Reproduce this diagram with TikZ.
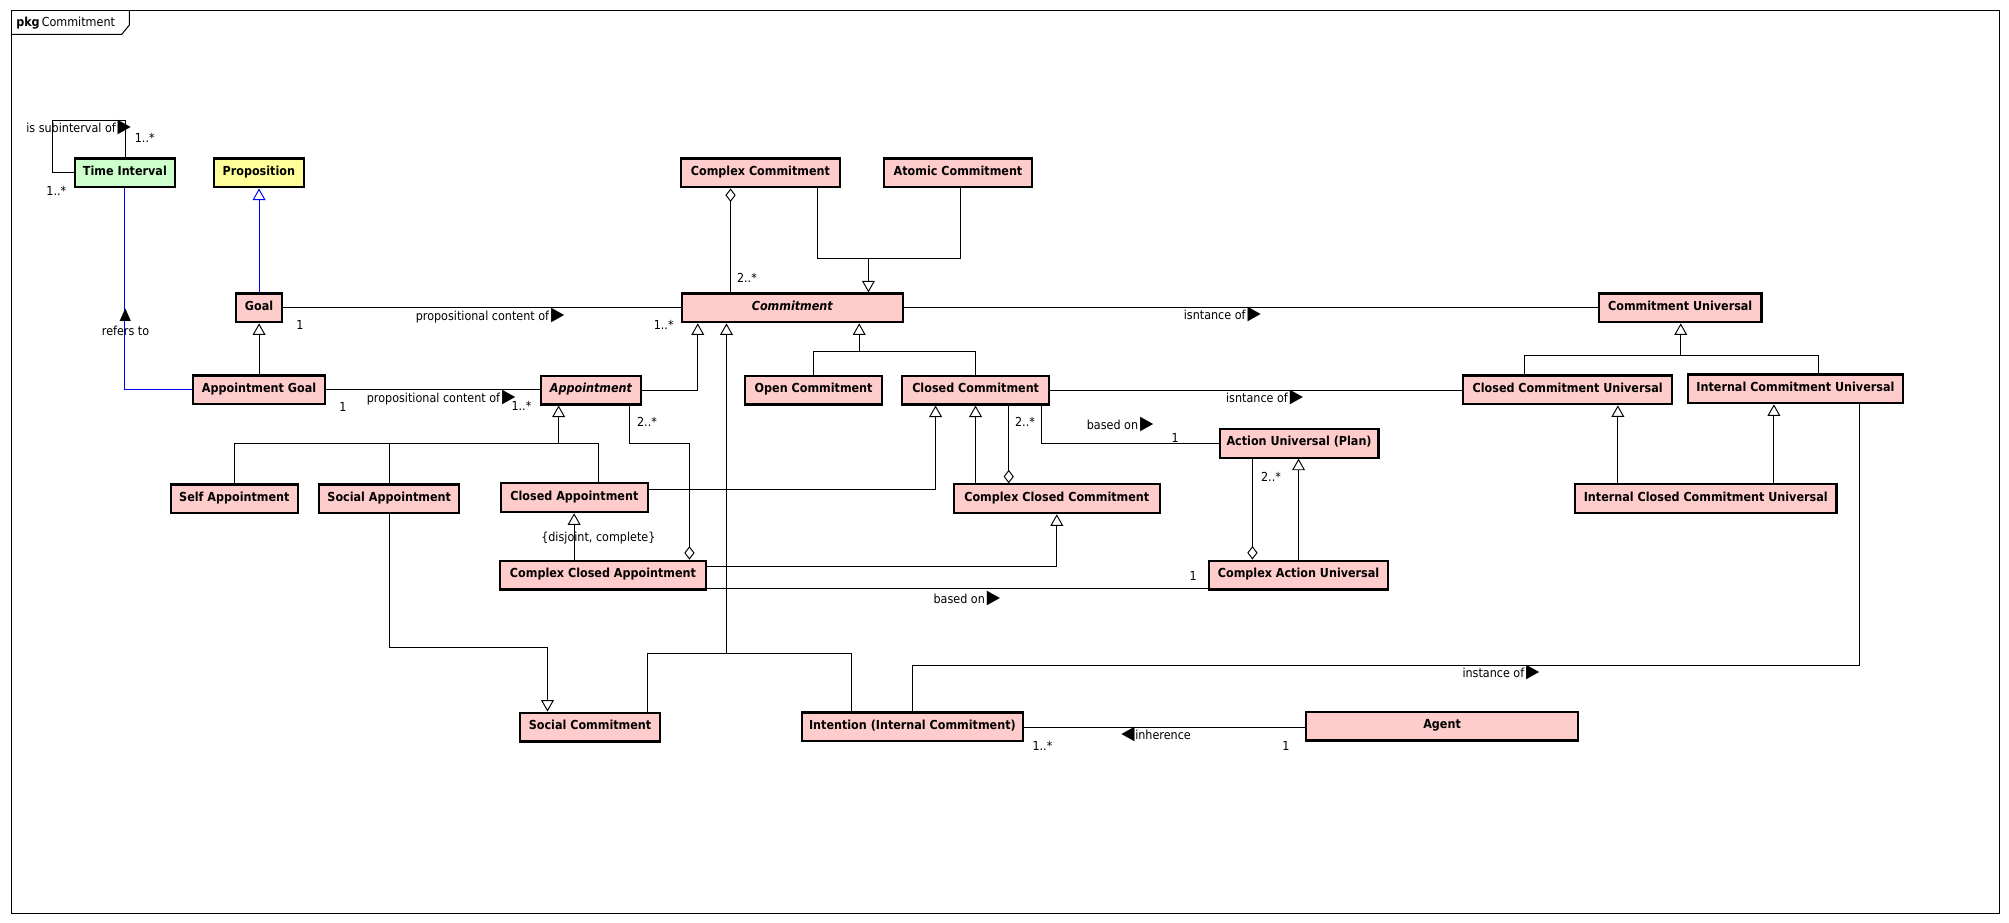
\documentclass[tikz,border=0pt]{standalone}
\usepackage{fontspec}
\setmainfont{DejaVu Sans}[FakeStretch=0.9]
\usetikzlibrary{arrows.meta,calc}
\definecolor{pinkfill}{HTML}{FFCCCC}
\definecolor{greenfill}{HTML}{CCFFCC}
\definecolor{yellowfill}{HTML}{FFFF99}
\definecolor{umlblue}{HTML}{0000FF}
\newcommand\umlsz{\fontsize{9.7pt}{11pt}\selectfont}
\newcommand\rtri{\kern1.5pt{\fontsize{15pt}{15pt}\selectfont ▶}}
\newcommand\ltri{{\fontsize{15pt}{15pt}\selectfont ◀}\kern0.5pt}
\newcommand\utri{{\fontsize{13pt}{13pt}\selectfont ▲}}
\begin{document}
\begin{tikzpicture}[x=1pt,y=-1pt,
  cls/.style={draw, line width=1.7pt, fill=pinkfill, inner sep=0pt, minimum height=22.5pt,
    text height=5.5pt, text depth=2pt, font=\bfseries\umlsz},
  lbl/.style={inner sep=0pt, text height=7pt, text depth=2pt, font=\umlsz},
  conn/.style={line width=0.75pt},
  gen/.style={conn, -{Triangle[open,length=9pt,width=10pt]}},
  agg/.style={conn, {Diamond[open,length=10.5pt,width=8pt]}-}]
\useasboundingbox (0,0) rectangle (1568,720);
\fill[white] (0,0) rectangle (1568,720);
% frame
\draw[line width=0.8pt] (8.6,8.3) rectangle (1560.3,713);
\draw[line width=0.8pt] (8.6,26.8) -- (95,26.8) -- (101,19.5) -- (101,8.3);
\node[lbl, anchor=west] (pkg) at (12.5,18) {\textbf{pkg}\,Commitment};
% classes
\node[cls, fill=greenfill, minimum width=78.3pt] (ti) at (97.5,135) {Time Interval};
\node[cls, fill=yellowfill, minimum width=70.3pt] (prop) at (202,135) {Proposition};
\node[cls, minimum width=36pt] (goal) at (202.2,240.3) {Goal};
\node[cls, minimum width=124.4pt] (cc) at (593.5,135) {Complex Commitment};
\node[cls, minimum width=115.7pt] (ac) at (747.7,135) {Atomic Commitment};
\node[cls, minimum width=172.6pt] (com) at (618.5,240.3) {\textit{Commitment}};
\node[cls, minimum width=126.7pt] (cu) at (1311.4,240.3) {Commitment Universal};
\node[cls, minimum width=102.8pt] (ag) at (202.2,304.3) {Appointment Goal};
\node[cls, minimum width=78.4pt] (app) at (461.4,304.4) {\textit{Appointment}};
\node[cls, minimum width=107.4pt] (oc) at (635,304.4) {Open Commitment};
\node[cls, minimum width=114.7pt] (clc) at (761.5,304.4) {Closed Commitment};
\node[cls, minimum width=163.4pt] (ccu) at (1223.5,304.3) {Closed Commitment Universal};
\node[cls, minimum width=167.4pt] (icu) at (1401.3,303.5) {Internal Commitment Universal};
\node[cls, minimum width=124pt] (au) at (1013.9,345.9) {Action Universal (Plan)};
\node[cls, minimum width=99.3pt] (sa) at (182.9,389.4) {Self Appointment};
\node[cls, minimum width=109.4pt] (soa) at (303.8,389.4) {Social Appointment};
\node[cls, minimum width=115pt] (ca) at (448.3,388.5) {Closed Appointment};
\node[cls, minimum width=160.8pt] (ccc) at (824.8,389.3) {Complex Closed Commitment};
\node[cls, minimum width=204.2pt] (iccu) at (1331.3,389.3) {Internal Closed Commitment Universal};
\node[cls, minimum width=160.9pt] (cca) at (470.6,448.9) {Complex Closed Appointment};
\node[cls, minimum width=139.6pt] (cau) at (1013.5,448.8) {Complex Action Universal};
\node[cls, minimum width=109.3pt] (sc) at (460.5,567.5) {Social Commitment};
\node[cls, minimum width=172.1pt] (int) at (712.1,567.4) {Intention (Internal Commitment)};
\node[cls, minimum width=212.4pt] (agent) at (1125.5,566.7) {Agent};
% coordinates
\coordinate (loopA) at (41,94);
\coordinate (loopB) at (98,94);
\coordinate (j1) at (677.8,201.4);
\coordinate (j2) at (670.6,274.3);
\coordinate (j3) at (1311.8,277.4);
\coordinate (j4) at (436,346);
\coordinate (j5) at (538.1,346);
\coordinate (j6) at (491.3,346);
\coordinate (j7) at (427.3,505.6);
\coordinate (j8) at (567,510);
\coordinate (j9) at (1450.9,519.3);
% connectors
\draw[conn] (ti.west) -| (loopA) -- (loopB) -- (loopB |- ti.north);
\draw[conn, umlblue] (ti.south) |- (ag.west);
\draw[gen, umlblue] (goal.north) -- (goal.north |- prop.south);
\draw[gen] (ag.north) -- (ag.north |- goal.south);
\draw[conn] (goal.east) -- (goal.east -| com.west);
\draw[conn] (ag.east) -- (ag.east -| app.west);
\draw[gen] (app.east) -| ([xshift=-73.9pt]com.south);
\draw[agg] ([xshift=-23.3pt]cc.south) -- ([xshift=-23.3pt]cc.south |- com.north);
\draw[conn] ([xshift=44.5pt]cc.south) |- (j1);
\draw[conn] ([xshift=2pt]ac.south) |- (j1);
\draw[gen] (j1) -- (j1 |- com.north);
\draw[conn] (oc.north) |- (j2);
\draw[conn] (clc.north) |- (j2);
\draw[gen] (j2) -- (j2 |- com.south);
\draw[conn] (com.east) -- (com.east -| cu.west);
\draw[conn] ([xshift=-33.5pt]ccu.north) |- (j3);
\draw[conn] ([xshift=18.1pt]icu.north) |- (j3);
\draw[gen] (j3) -- (j3 |- cu.south);
\draw[conn] (clc.east) -- (clc.east -| ccu.west);
\draw[gen] ([xshift=-68.6pt]iccu.north) -- ([xshift=-68.6pt]iccu.north |- ccu.south);
\draw[gen] ([xshift=53.2pt]iccu.north) -- ([xshift=53.2pt]iccu.north |- icu.south);
\draw[conn] (sa.north) |- (j4);
\draw[conn] (soa.north) -- (soa.north |- j4);
\draw[conn] ([xshift=19.1pt]ca.north) |- (j4);
\draw[gen] (j4) -- (j4 |- app.south);
\draw[gen] ([xshift=-22.5pt]cca.north) -- ([xshift=-22.5pt]cca.north |- ca.south);
\draw[agg] ([xshift=67.5pt]cca.north) -- (j5) -- (j6) -- (j6 |- app.south);
\draw[gen] ([yshift=6.5pt]ca.east) -| ([xshift=-31.3pt]clc.south);
\draw[gen] ([xshift=-63.4pt]ccc.north) -- ([xshift=-63.4pt]ccc.north |- clc.south);
\draw[agg] ([xshift=-37.5pt]ccc.north) -- ([xshift=-37.5pt]ccc.north |- clc.south);
\draw[conn] ([xshift=51.5pt]clc.south) |- (au.west);
\draw[gen] ([yshift=6.9pt]cca.east) -| (ccc.south);
\draw[conn] ([yshift=-10.4pt]cca.east) -- ([yshift=-10.4pt]cca.east -| cau.west);
\draw[agg] ([xshift=-36pt]cau.north) -- ([xshift=-36pt]cau.north |- au.south);
\draw[gen] (cau.north) -- (cau.north |- au.south);
\draw[gen] (soa.south) |- (j7) -- (j7 |- sc.north);
\draw[conn] ([xshift=44.8pt]sc.north) |- (j8);
\draw[conn] ([xshift=-47.5pt]int.north) |- (j8);
\draw[gen] (j8) -- (j8 |- com.south);
\draw[conn] (int.north) |- (j9) -- (j9 |- icu.south);
\draw[conn] (int.east) -- (int.east -| agent.west);
% labels
\node[lbl] (lsub) at (61.4,101) {is subinterval of\rtri};
\node[lbl] (msub1) at (113,109) {1..*};
\node[lbl] (msub2) at (44,150) {1..*};
\node[lbl] (reftri) at (97.8,247) {\utri};
\node[lbl] (lref) at (98,259.7) {refers to};
\node[lbl] (lpc1) at (382.5,248) {propositional content of\rtri};
\node[lbl] (mpc1a) at (234,255) {1};
\node[lbl] (mpc1b) at (518,255) {1..*};
\node[lbl] (lpc2) at (344.3,312) {propositional content of\rtri};
\node[lbl] (mpc2a) at (267.7,318.7) {1};
\node[lbl] (mpc2b) at (407,317.5) {1..*};
\node[lbl] (mcc) at (583,217.8) {2..*};
\node[lbl] (mapp) at (505,330.5) {2..*};
\node[lbl] (mccc) at (800,330) {2..*};
\node[lbl] (linst1) at (954,247.2) {isntance of\rtri};
\node[lbl] (linst2) at (987,311.7) {isntance of\rtri};
\node[lbl] (lbased1) at (874.2,333) {based on\rtri};
\node[lbl] (mbased1) at (917.3,342.5) {1};
\node[lbl] (mau) at (992,373.4) {2..*};
\node[lbl] (ldisj) at (467,420.5) {\{disjoint, complete\}};
\node[lbl] (lbased2) at (754.6,468.4) {based on\rtri};
\node[lbl] (mbased2) at (931.3,450.7) {1};
\node[lbl] (linst3) at (1171.5,526.5) {instance of\rtri};
\node[lbl] (linh) at (902.3,575) {\ltri inherence};
\node[lbl] (minh1) at (813.6,583) {1..*};
\node[lbl] (minh2) at (1003.6,583) {1};
\end{tikzpicture}
\end{document}
